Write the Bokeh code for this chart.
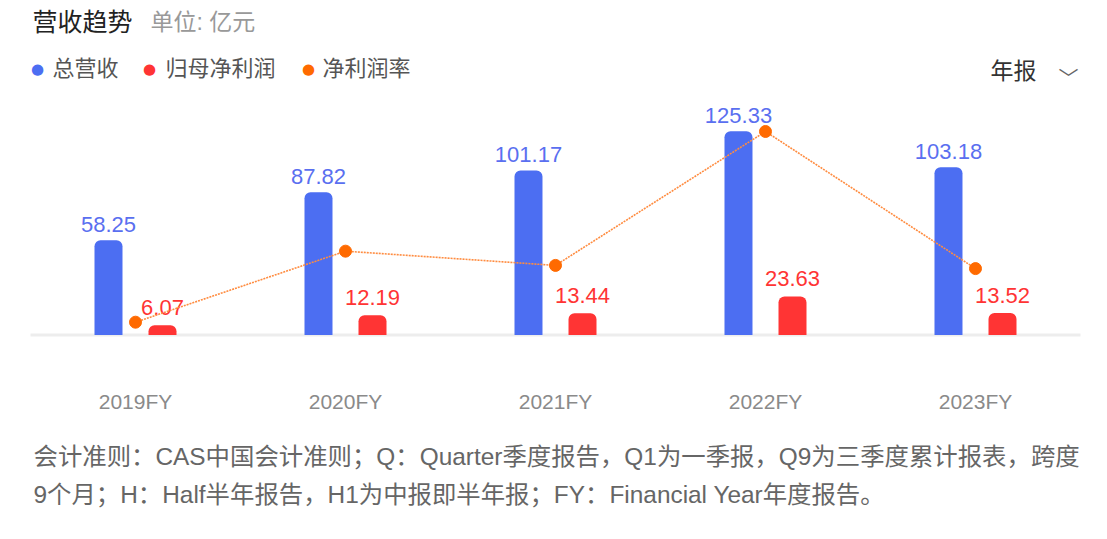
from bokeh.plotting import figure
from bokeh.layouts import column
from bokeh.models import ColumnDataSource, FactorRange, Range1d, Label
from bokeh.transform import dodge
from bokeh.core.properties import value
from bokeh.embed import file_html
from bokeh.resources import INLINE

# ---- data ----
years = ["2019FY", "2020FY", "2021FY", "2022FY", "2023FY"]
revenue = [58.25, 87.82, 101.17, 125.33, 103.18]          # 总营收 (亿元)
net_profit = [6.07, 12.19, 13.44, 23.63, 13.52]           # 归母净利润 (亿元)
net_margin = [10.42, 13.56, 12.93, 18.85, 12.79]          # 净利润率 (%)
legend_names = ["总营收", "归母净利润", "净利润率"]
title_text = "营收趋势"
unit_text = "单位: 亿元"
period_text = "年报"
footnote = [
    "会计准则：CAS中国会计准则；Q：Quarter季度报告，Q1为一季报，Q9为三季度累计报表，跨度",
    "9个月；H：Half半年报告，H1为中报即半年报；FY：Financial Year年度报告。",
]

# ---- styles ----
BLUE = "#4c6ef2"
RED = "#ff3434"
ORANGE = "#ff6a00"
CJK = "Liberation Sans, Noto Sans CJK SC"
NUM = "Liberation Sans"

src = ColumnDataSource(dict(
    year=years, rev=revenue, np=net_profit, margin=net_margin,
    rev_lbl=[f"{v:.2f}" for v in revenue],
    np_lbl=[f"{v:.2f}" for v in net_profit],
))

TOP_H = 420
FRAME_LEFT = 3
FRAME_BOTTOM = 345

p = figure(
    width=1107, height=TOP_H,
    x_range=FactorRange(*years, range_padding=0.1286, range_padding_units="absolute"),
    y_range=Range1d(-6.46, 205.85),
    output_backend="svg", toolbar_location=None, tools="",
    title=None, y_axis_location=None,
    min_border_left=FRAME_LEFT, min_border_right=0,
    min_border_top=0, min_border_bottom=TOP_H - FRAME_BOTTOM,
)
p.extra_y_ranges = {"margin": Range1d(9.39, 24.64)}
p.outline_line_color = None
p.background_fill_color = "white"
p.border_fill_color = "white"
p.xgrid.visible = False
p.ygrid.visible = False

ax = p.xaxis[0]
ax.axis_line_color = None
ax.major_tick_line_color = None
ax.minor_tick_line_color = None
ax.major_tick_out = 0
ax.major_tick_in = 0
ax.major_label_standoff = 44
ax.major_label_text_font = NUM
ax.major_label_text_font_size = "21px"
ax.major_label_text_color = "#8a8a8a"

# baseline
base = ColumnDataSource(dict(x0=[years[0]], x1=[years[-1]], y=[0]))
p.segment(x0=dodge("x0", -0.5, range=p.x_range), y0="y",
          x1=dodge("x1", 0.5, range=p.x_range), y1="y",
          source=base, line_color="#ededed", line_width=3)

OFF = 0.1286
W = 0.1333
p.vbar(x=dodge("year", -OFF, range=p.x_range), top="rev", bottom=0, width=W,
       source=src, fill_color=BLUE, line_color=None, border_radius=(6, 6, 0, 0))
p.vbar(x=dodge("year", OFF, range=p.x_range), top="np", bottom=0, width=W,
       source=src, fill_color=RED, line_color=None, border_radius=(6, 6, 0, 0))

p.text(x=dodge("year", -OFF, range=p.x_range), y="rev", text="rev_lbl", source=src,
       text_align="center", text_baseline="alphabetic", y_offset=-16,
       text_font=value(NUM), text_font_size="22px", text_color="#5a6ff0")
p.text(x=dodge("year", OFF, range=p.x_range), y="np", text="np_lbl", source=src,
       text_align="center", text_baseline="alphabetic", y_offset=-18,
       text_font=value(NUM), text_font_size="22px", text_color=RED)

p.line(x="year", y="margin", y_range_name="margin", source=src,
       line_color="#ff8c40", line_width=1.6, line_dash="2 1")
p.scatter(x="year", y="margin", y_range_name="margin", source=src,
          size=12, fill_color=ORANGE, line_color=ORANGE)


def lab(fig, fl, fb, text, cx, cy, size, color, font=CJK, style="normal", align="left"):
    fig.add_layout(Label(x=cx - fl, y=fb - cy, x_units="screen", y_units="screen",
                         text=text, text_font=font, text_font_size=size, text_color=color,
                         text_font_style=style, text_align=align, text_baseline="middle"))


# header
lab(p, FRAME_LEFT, FRAME_BOTTOM, title_text, 32, 21, "25px", "#222222")
lab(p, FRAME_LEFT, FRAME_BOTTOM, unit_text, 150, 21, "23px", "#999999")

# legend
dot_x = [37, 149, 308]
txt_x = [52, 165, 322]
for name, col, dx, tx in zip(legend_names, [BLUE, RED, ORANGE], dot_x, txt_x):
    lab(p, FRAME_LEFT, FRAME_BOTTOM, "●", dx, 68, "15px", col, font="DejaVu Sans", align="center")
    lab(p, FRAME_LEFT, FRAME_BOTTOM, name, tx, 68, "22px", "#555555")

lab(p, FRAME_LEFT, FRAME_BOTTOM, period_text, 990, 70, "23px", "#333333")
lab(p, FRAME_LEFT, FRAME_BOTTOM, "﹀", 1068, 77, "20px", "#666666", font="Noto Sans CJK SC", align="center")

# footnote panel
BOT_H = 539 - TOP_H
q = figure(width=1107, height=BOT_H, x_range=Range1d(0, 1), y_range=Range1d(0, 1),
           output_backend="svg", toolbar_location=None, tools="", title=None,
           x_axis_location=None, y_axis_location=None,
           min_border_left=0, min_border_right=0, min_border_top=0, min_border_bottom=0)
q.outline_line_color = None
q.xgrid.visible = False
q.ygrid.visible = False
lab(q, 0, BOT_H, footnote[0], 30, 456 - TOP_H, "24.4px", "#666666")
lab(q, 0, BOT_H, footnote[1], 30, 494 - TOP_H, "24.4px", "#666666")

layout = column(p, q, spacing=0)
open("out.html", "w").write(file_html(layout, INLINE))
